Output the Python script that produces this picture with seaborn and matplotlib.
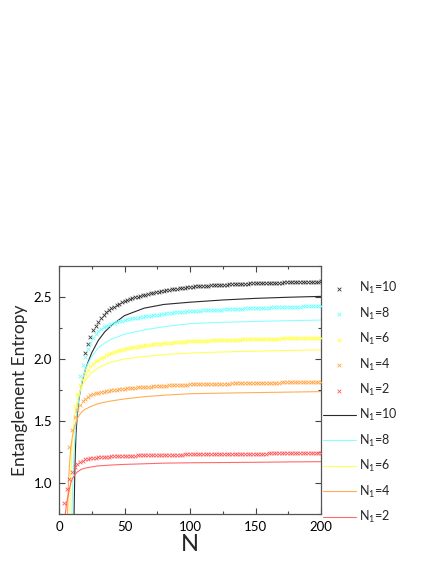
import matplotlib
matplotlib.use('Agg')
import matplotlib.pyplot as plt
import seaborn as sns
import pandas as pd


SUBSYSTEM_SIZES = [10, 8, 6, 4, 2]
SERIES_COLORS = {10: '#333333', 8: '#70ffff', 6: '#ffff40', 4: '#ffa545', 2: '#ff5a5a'}
LINE_COLORS = {10: '#2a2a2a', 8: '#8cffff', 6: '#ffff55', 4: '#ffae55', 2: '#ff6a6a'}

# numerical values (crosses), one value every second N starting at N = 2 * N1
MARKER_START = {10: 20, 8: 16, 6: 12, 4: 8, 2: 4}

markers_n1_10 = [
    2.05, 2.12, 2.18, 2.23, 2.27, 2.30, 2.33, 2.355, 2.375, 2.393, 2.41, 2.423, 2.435, 2.446, 2.456, 2.465,
    2.474, 2.482, 2.49, 2.497, 2.503, 2.509, 2.515, 2.52, 2.525, 2.53, 2.535, 2.539, 2.543, 2.547, 2.551,
    2.555, 2.558, 2.561, 2.564, 2.567, 2.570, 2.573, 2.576, 2.579, 2.582,
    2.584, 2.586, 2.587, 2.588, 2.590, 2.591, 2.592, 2.594, 2.595, 2.596, 2.597, 2.598, 2.599, 2.600,
    2.601, 2.602, 2.603, 2.604, 2.605, 2.606, 2.607, 2.608, 2.609, 2.610, 2.611,
    2.612, 2.612, 2.613, 2.613, 2.614, 2.614, 2.615, 2.615, 2.616, 2.616, 2.617, 2.617, 2.618, 2.618,
    2.619, 2.619, 2.620, 2.620, 2.621, 2.621, 2.622, 2.622, 2.623, 2.624, 2.625,
]
markers_n1_8 = [
    1.86, 1.95, 2.02, 2.08, 2.13, 2.17, 2.20, 2.225, 2.243, 2.257, 2.268, 2.278, 2.286, 2.293, 2.299, 2.305,
    2.310, 2.315,
    2.319, 2.323, 2.327, 2.331, 2.334, 2.337, 2.340, 2.343, 2.346, 2.349, 2.352, 2.355, 2.358, 2.361, 2.364,
    2.367, 2.370, 2.372, 2.375, 2.377, 2.379, 2.381, 2.383, 2.385, 2.387,
    2.388, 2.389, 2.390, 2.391, 2.392, 2.393, 2.394, 2.395, 2.396, 2.397, 2.398, 2.399, 2.400, 2.401,
    2.402, 2.403, 2.404, 2.405, 2.406, 2.407, 2.408, 2.409, 2.410, 2.411, 2.412,
    2.413, 2.413, 2.414, 2.415, 2.415, 2.416, 2.417, 2.417, 2.418, 2.419, 2.419, 2.420, 2.421, 2.421,
    2.422, 2.423, 2.423, 2.424, 2.425, 2.425, 2.426, 2.427, 2.428, 2.429, 2.430,
]
markers_n1_6 = [
    1.62, 1.72, 1.79, 1.84, 1.88, 1.915, 1.94, 1.962, 1.98, 1.995, 2.008, 2.02, 2.03, 2.04, 2.048, 2.056,
    2.063, 2.07, 2.076, 2.082,
    2.086, 2.090, 2.094, 2.097, 2.100, 2.103, 2.106, 2.109, 2.112, 2.115, 2.117, 2.120, 2.122, 2.124, 2.126,
    2.128, 2.130, 2.132, 2.134, 2.136, 2.137, 2.139, 2.141, 2.142, 2.144,
    2.145, 2.146, 2.146, 2.147, 2.148, 2.148, 2.149, 2.150, 2.150, 2.151, 2.152, 2.152, 2.153, 2.154,
    2.154, 2.155, 2.156, 2.156, 2.157, 2.158, 2.158, 2.159, 2.160, 2.160, 2.161,
    2.161, 2.162, 2.162, 2.163, 2.163, 2.164, 2.164, 2.165, 2.165, 2.166, 2.166, 2.166, 2.167, 2.167,
    2.168, 2.168, 2.168, 2.169, 2.169, 2.169, 2.170, 2.170, 2.170, 2.171, 2.171,
]
markers_n1_4 = [
    1.29, 1.43, 1.53, 1.59, 1.63, 1.66, 1.68, 1.695, 1.706, 1.715, 1.722, 1.728, 1.733, 1.737, 1.741, 1.745,
    1.748, 1.751, 1.754, 1.757, 1.759, 1.762,
    1.764, 1.766, 1.768, 1.770, 1.771, 1.773, 1.774, 1.776, 1.777, 1.778, 1.780, 1.781, 1.782, 1.783, 1.785,
    1.786, 1.787, 1.788, 1.789, 1.790, 1.791, 1.792, 1.793, 1.794, 1.795,
    1.795, 1.796, 1.796, 1.797, 1.797, 1.798, 1.798, 1.799, 1.799, 1.800, 1.800, 1.801, 1.801, 1.802,
    1.802, 1.803, 1.803, 1.804, 1.804, 1.805, 1.805, 1.806, 1.806, 1.807, 1.807,
    1.808, 1.808, 1.808, 1.809, 1.809, 1.809, 1.810, 1.810, 1.810, 1.811, 1.811, 1.811, 1.812, 1.812,
    1.812, 1.813, 1.813, 1.813, 1.814, 1.814, 1.814, 1.814, 1.815, 1.815, 1.815,
]
markers_n1_2 = [
    0.84, 0.95, 1.03, 1.09, 1.13, 1.155, 1.17, 1.18, 1.19, 1.195, 1.199, 1.202, 1.205, 1.207, 1.209, 1.211,
    1.212, 1.213, 1.214, 1.215, 1.216, 1.217, 1.218, 1.219,
    1.220, 1.220, 1.221, 1.221, 1.222, 1.222, 1.223, 1.223, 1.224, 1.224, 1.225, 1.225, 1.226, 1.226, 1.227,
    1.227, 1.228, 1.228, 1.228, 1.229, 1.229, 1.229, 1.230, 1.230, 1.231,
    1.231, 1.231, 1.231, 1.232, 1.232, 1.232, 1.232, 1.233, 1.233, 1.233, 1.233, 1.234, 1.234, 1.234,
    1.234, 1.235, 1.235, 1.235, 1.235, 1.236, 1.236, 1.236, 1.236, 1.236, 1.237,
    1.237, 1.237, 1.237, 1.237, 1.238, 1.238, 1.238, 1.238, 1.238, 1.238, 1.239, 1.239, 1.239, 1.239,
    1.239, 1.239, 1.239, 1.240, 1.240, 1.240, 1.240, 1.240, 1.240, 1.240, 1.240,
]

# analytic curves (solid lines)
line_n_10 = [11.2, 11.5, 12, 12.5, 13, 14, 15, 16, 18, 20, 22, 25, 30, 35, 40, 50, 65, 80, 100, 125, 150, 175, 200]
line_s_10 = [0.4, 0.75, 1.05, 1.25, 1.4, 1.56, 1.66, 1.73, 1.83, 1.91, 1.97, 2.05, 2.15, 2.22, 2.27, 2.35,
             2.41, 2.44, 2.458, 2.476, 2.489, 2.498, 2.505]
line_n_8 = [9.6, 9.9, 10.5, 11, 12, 13, 14, 16, 18, 20, 22, 25, 30, 35, 40, 50, 65, 80, 100, 125, 150, 175, 200]
line_s_8 = [0.4, 0.75, 1.0, 1.15, 1.35, 1.5, 1.6, 1.74, 1.84, 1.91, 1.96, 2.02, 2.09, 2.13, 2.16, 2.2,
            2.235, 2.26, 2.285, 2.296, 2.303, 2.309, 2.314]
line_n_6 = [7.9, 8.2, 9, 10, 11, 12, 14, 16, 18, 20, 25, 30, 35, 40, 50, 65, 80, 100, 125, 150, 175, 200]
line_s_6 = [0.4, 0.75, 1.05, 1.3, 1.45, 1.55, 1.67, 1.74, 1.79, 1.83, 1.89, 1.93, 1.955, 1.975, 2.0,
            2.02, 2.035, 2.048, 2.057, 2.063, 2.069, 2.074]
line_n_4 = [6.2, 6.5, 7, 8, 9, 10, 11, 12, 14, 16, 18, 20, 25, 30, 35, 40, 50, 65, 80, 100, 125, 150, 175, 200]
line_s_4 = [0.4, 0.75, 0.95, 1.15, 1.28, 1.36, 1.42, 1.46, 1.52, 1.555, 1.58, 1.595, 1.62, 1.64, 1.652,
            1.662, 1.678, 1.696, 1.708, 1.72, 1.725, 1.729, 1.733, 1.737]
line_n_2 = [4.2, 4.8, 5.5, 6, 7, 8, 9, 10, 12, 14, 17, 20, 25, 30, 40, 50, 65, 80, 100, 125, 150, 175, 200]
line_s_2 = [0.6, 0.75, 0.81, 0.85, 0.9, 0.955, 1.0, 1.03, 1.065, 1.09, 1.11, 1.12, 1.13, 1.138, 1.145,
            1.15, 1.155, 1.16, 1.163, 1.165, 1.167, 1.17, 1.172]

MARKERS = {10: markers_n1_10, 8: markers_n1_8, 6: markers_n1_6, 4: markers_n1_4, 2: markers_n1_2}
LINES = {10: (line_n_10, line_s_10), 8: (line_n_8, line_s_8), 6: (line_n_6, line_s_6),
         4: (line_n_4, line_s_4), 2: (line_n_2, line_s_2)}


def label_for(n1):
    return f'N$_1$={n1}'


sns.set_style('ticks')
plt.rcParams['font.family'] = ['Lato', 'DejaVu Sans']
plt.rcParams['mathtext.default'] = 'regular'

fig = plt.figure(figsize=(4.36, 5.64), dpi=100)
ax = fig.add_axes([59 / 436, 1 - 514 / 564, 262 / 436, 248 / 564])

handles = []
for n1 in SUBSYSTEM_SIZES:
    values = MARKERS[n1]
    df = pd.DataFrame({'N': [MARKER_START[n1] + 2 * i for i in range(len(values))], 'S': values})
    sns.scatterplot(data=df, x='N', y='S', ax=ax, marker='x', s=7, linewidth=0.6,
                    color=SERIES_COLORS[n1], label=label_for(n1), zorder=3, clip_on=True)
    handles.append(ax.collections[-1])

for n1 in SUBSYSTEM_SIZES:
    n_vals, s_vals = LINES[n1]
    df = pd.DataFrame({'N': n_vals, 'S': s_vals})
    sns.lineplot(data=df, x='N', y='S', ax=ax, sort=False, estimator=None,
                 color=LINE_COLORS[n1], linewidth=0.8, label=label_for(n1), zorder=2)
    handles.append(ax.lines[-1])

ax.set_xlim(0, 200)
ax.set_ylim(0.75, 2.75)
ax.set_xticks([0, 50, 100, 150, 200])
ax.set_xticks([25, 75, 125, 175], minor=True)
ax.set_yticks([1.0, 1.5, 2.0, 2.5])
ax.set_yticks([0.75, 1.25, 1.75, 2.25, 2.75], minor=True)
ax.set_yticklabels(['1.0', '1.5', '2.0', '2.5'])

ax.tick_params(which='both', direction='in', top=True, right=True, colors='#444444',
               labelcolor='black', labelsize=9.5, width=0.8)
ax.tick_params(which='major', length=4, pad=5)
ax.tick_params(which='minor', length=2.5)
for spine in ax.spines.values():
    spine.set_color('#555555')
    spine.set_linewidth(0.9)

ax.set_xlabel('N', fontsize=17, labelpad=1)
ax.set_ylabel('Entanglement Entropy', fontsize=12.5, labelpad=4)

ax.legend(handles=handles, labels=[label_for(n) for n in SUBSYSTEM_SIZES] * 2,
          loc='upper left', bbox_to_anchor=(323 / 436, 1 - 280 / 564), bbox_transform=fig.transFigure,
          frameon=False, fontsize=9, handlelength=2.6, handletextpad=0.3, labelspacing=0.75,
          borderpad=0, borderaxespad=0, scatterpoints=1)

fig.savefig('out.png', dpi=100)
